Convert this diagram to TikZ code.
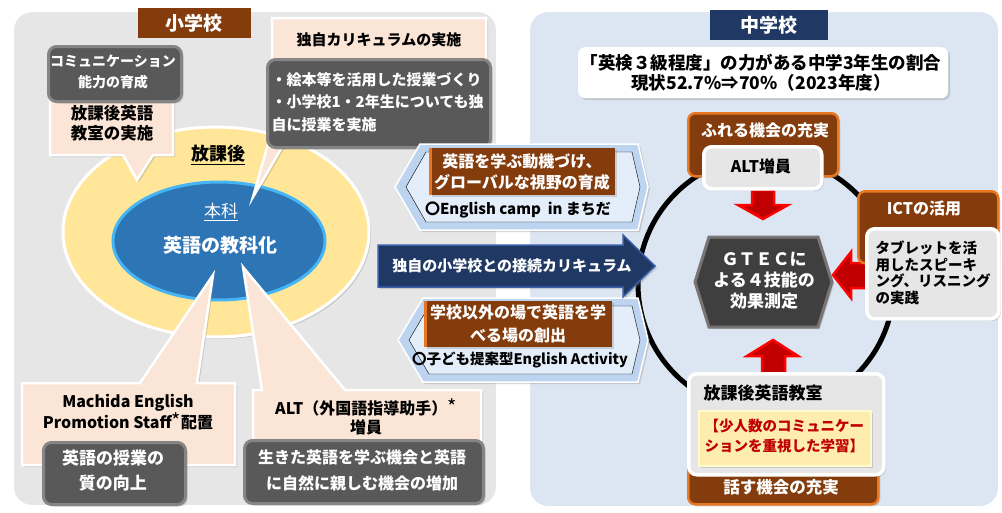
\documentclass[tikz,border=0pt]{standalone}
\usepackage{fontspec}
\setmainfont{Noto Sans CJK JP}
\usetikzlibrary{shadows,shapes.geometric}
\definecolor{panelL}{HTML}{E6E6E6}
\definecolor{panelR}{HTML}{DCE6F2}
\definecolor{brownB}{HTML}{843C0C}
\definecolor{orangeB}{HTML}{E87722}
\definecolor{navyB}{HTML}{1F3864}
\definecolor{darkbox}{HTML}{595959}
\definecolor{darkedge}{HTML}{858585}
\definecolor{pinkB}{HTML}{FBE5D6}
\definecolor{yellowE}{HTML}{FFE699}
\definecolor{blueE}{HTML}{2E75B6}
\definecolor{blueEdge}{HTML}{45B5F5}
\definecolor{chevB}{HTML}{BCD4F0}
\definecolor{chevL}{HTML}{E4EEFA}
\definecolor{arrowN}{HTML}{203864}
\definecolor{arrowNE}{HTML}{3A5FA8}
\definecolor{lightbox}{HTML}{E7E6E6}
\definecolor{redA}{HTML}{FF0000}
\definecolor{redD}{HTML}{C00000}
\definecolor{hexF}{HTML}{3F3F3F}
\definecolor{hexE}{HTML}{7A7575}
\definecolor{yelbox}{HTML}{FFEDB0}
\newcommand{\FS}[2]{\fontsize{#1}{#2}\selectfont\bfseries}
\newcommand{\astk}{{\mdseries\fontsize{20}{20}\selectfont *}}
\tikzset{
  shd/.style={drop shadow={opacity=0.3,shadow xshift=2pt,shadow yshift=-2pt}},
  panel/.style={draw=white,line width=4pt,rounded corners=20pt,anchor=north west,
    drop shadow={opacity=0.2,shadow xshift=1pt,shadow yshift=-1pt}},
  darkbx/.style={fill=darkbox,draw=darkedge,line width=3pt,rounded corners=8pt,anchor=north west,shd},
  pinkcall/.style={fill=pinkB,draw=white,line width=2.5pt,line join=miter,shd},
  brownbx/.style={fill=brownB,draw=orangeB,line width=2.5pt,rounded corners=7pt,anchor=north west,shd},
  lightbx/.style={fill=lightbox,draw=white,line width=3.5pt,rounded corners=8pt,anchor=north west,shd},
  titlebx/.style={anchor=north west,inner sep=0pt},
  redarrow/.style={fill=redD,draw=redA,line width=2.5pt,line join=miter},
  chevout/.style={fill=chevB,draw=white,line width=1.5pt,shd},
  chevin/.style={fill=chevL},
  midbrown/.style={fill=brownB,anchor=north west,inner sep=0pt,shd},
  wt/.style={text=white,align=center},
  bt/.style={text=black,align=center},
}
\begin{document}
\begin{tikzpicture}[x=1pt,y=-1pt]
\useasboundingbox (0,0) rectangle (1002,512);
% panels
\node[panel,fill=panelL,minimum width=486pt,minimum height=497pt] (lpanel) at (10,8) {};
\node[panel,fill=panelR,minimum width=472pt,minimum height=498pt] (rpanel) at (526,8) {};

% ellipses
\node[ellipse,fill=yellowE,draw=white,line width=3pt,minimum width=306pt,minimum height=210pt,shd] (yell) at (216,232) {};
\node[ellipse,fill=blueE,draw=blueEdge,line width=3pt,minimum width=212pt,minimum height=118pt] (bell) at (219,241) {};
\node[bt,font=\FS{18}{20}] (houka) at (218,155) {\underline{放課後}};
\node[wt,font=\fontsize{17}{20}\selectfont] (honka) at (221,212) {\underline{本科}};
\node[wt,font=\FS{19}{22}] (kyoka) at (220,245) {英語の教科化};

% pink callouts
\draw[pinkcall] (50,70) -- (173,70) -- (173,155) -- (153,155) -- (137,180) -- (123,155) -- (50,155) -- cycle;
\draw[pinkcall] (272,18) -- (486,18) -- (486,130) -- (292,130) -- (253,197) -- (272,130) -- cycle;
\draw[pinkcall] (22,383) -- (140,383) -- (213,275) -- (197,383) -- (235,383) -- (235,465) -- (22,465) -- cycle;
\draw[pinkcall] (253,390) -- (262,390) -- (243,267) -- (345,390) -- (481,390) -- (481,465) -- (253,465) -- cycle;

% title
\node[titlebx,fill=brownB,minimum width=113pt,minimum height=30pt] (ltitle) at (138,8) {};
\node[wt,font=\FS{19}{22}] (ltitlet) at (194,23) {小学校};

% dark boxes
\node[darkbx,minimum width=133pt,minimum height=55pt] (comm) at (47,45) {};
\node[darkbx,minimum width=223pt,minimum height=88pt] (dokuD) at (266,58) {};
\node[darkbx,minimum width=142pt,minimum height=62pt] (qual) at (42,441) {};
\node[darkbx,minimum width=239pt,minimum height=63pt] (altD) at (243,439) {};

% left texts
\node[wt,font=\FS{14}{21}] (commt) at (113,72) {コミュニケーション\\能力の育成};
\node[bt,font=\FS{16.5}{20}] (houkat) at (112,123) {放課後英語\\教室の実施};
\node[bt,font=\FS{15}{18}] (dokut) at (379,40) {独自カリキュラムの実施};
\node[text=white,align=left,anchor=west,font=\FS{15}{22.5}] (dokuDt) at (268,102) {・絵本等を活用した授業づくり\\・小学校1・2年生についても独\\自に授業を実施};
\node[bt,font=\FS{16}{21}] (mepst) at (128,412) {Machida English\\Promotion Staff\astk 配置};
\node[bt,font=\FS{16}{19}] (altt) at (366,417) {ALT（外国語指導助手）\astk\\増員};
\node[wt,font=\FS{17}{25}] (qualt) at (113,471) {英語の授業の\\質の向上};
\node[wt,font=\FS{16}{26}] (altDt) at (362,470) {生きた英語を学ぶ機会と英語\\に自然に親しむ機会の増加};

% right panel
\node[titlebx,fill=navyB,minimum width=118pt,minimum height=30pt] (rtitle) at (710,10) {};
\node[wt,font=\FS{19}{22}] (rtitlet) at (769,25) {中学校};
\node[anchor=north west,fill=white,rounded corners=7pt,minimum width=370pt,minimum height=51pt,shd] (goal) at (578,47) {};
\node[bt,font=\FS{17.5}{20}] (goalt) at (761,73) {「英検３級程度」の力がある中学3年生の割合\\現状52.7\%⇒70\%（2023年度）};

\node[circle,draw=black,line width=5pt,minimum size=256pt] (ring) at (766,284) {};

% red arrows
\draw[redarrow] (752,190) -- (774,190) -- (774,205) -- (788,205) -- (763,219) -- (738,205) -- (752,205) -- cycle;
\draw[redarrow] (868,263) -- (851,263) -- (851,252) -- (833,275) -- (851,298) -- (851,288) -- (868,288) -- cycle;
\draw[redarrow] (762,375) -- (762,356) -- (747,356) -- (773,340) -- (798,356) -- (785,356) -- (785,375) -- cycle;

% top
\node[brownbx,minimum width=150pt,minimum height=63pt] (fureru) at (687,112) {};
\node[wt,font=\FS{16}{18}] (furerut) at (765,130) {ふれる機会の充実};
\node[lightbx,minimum width=118pt,minimum height=42pt] (altz) at (702,145) {};
\node[bt,font=\FS{16}{18}] (altzt) at (761,166) {ALT増員};

% hexagon
\draw[fill=hexF,draw=hexE,line width=3pt,line join=miter,shd] (695,282) -- (709,237) -- (818,237) -- (832,282) -- (818,327) -- (709,327) -- cycle;
\node[wt,font=\FS{17}{21}] (gtec) at (764,281) {ＧＴＥＣに\\よる４技能の\\効果測定};

% ICT
\node[brownbx,minimum width=140pt,minimum height=72pt] (ict) at (857,190) {};
\node[wt,font=\FS{16}{18}] (ictt) at (924,208) {ICTの活用};
\node[lightbx,minimum width=132pt,minimum height=90pt] (tab) at (865,227) {};
\node[text=black,align=left,anchor=west,font=\FS{14.5}{16.5}] (tabt) at (872,273) {タブレットを活\\用したスピーキ\\ング、リスニング\\の実践};

% bottom
\node[brownbx,minimum width=190pt,minimum height=63pt] (hanasu) at (687,440) {};
\node[wt,font=\FS{16.5}{18}] (hanasut) at (781,487) {話す機会の充実};
\node[lightbx,minimum width=195pt,minimum height=101pt] (hkei) at (687,372) {};
\node[bt,font=\FS{17}{20}] (hkeit) at (763,393) {放課後英語教室};
\node[anchor=north west,fill=yelbox,draw=yellow!20,line width=2pt,minimum width=172pt,minimum height=55pt,shd] (yel) at (698,410) {};
\node[text=redD,align=left,anchor=west,font=\FS{14.5}{20}] (yelt) at (701,436) {【少人数のコミュニケー\\ションを重視した学習】};

% middle chevrons
\draw[chevout] (395,187) -- (420,144) -- (638,144) -- (648,187) -- (638,230) -- (420,230) -- cycle;
\draw[chevin] (406,187) -- (426,152) -- (632,152) -- (640,187) -- (632,222) -- (426,222) -- cycle;
\node[midbrown,minimum width=185pt,minimum height=47pt] (motiv) at (430,148) {};
\draw[orangeB,line width=3pt] (motiv.north west) -- (motiv.south west);
\node[wt,font=\FS{16}{21}] (motivt) at (522,172) {英語を学ぶ動機づけ、\\グローバルな視野の育成};
\node[bt,font=\FS{15}{18}] (campt) at (518,210) {〇English camp\ \ in まちだ};

\draw[chevout] (398,340) -- (423,298) -- (638,298) -- (648,340) -- (638,382) -- (423,382) -- cycle;
\draw[chevin] (409,340) -- (429,306) -- (632,306) -- (640,340) -- (632,374) -- (429,374) -- cycle;
\node[midbrown,minimum width=187pt,minimum height=46pt] (place) at (425,301) {};
\draw[orangeB,line width=3pt] (place.north west) -- (place.south west);
\node[wt,font=\FS{16}{23}] (placet) at (518,324) {学校以外の場で英語を学\\べる場の創出};
\node[bt,font=\FS{14.5}{18}] (actt) at (520,360) {〇子ども提案型English Activity};

% blue arrow
\draw[fill=arrowN,draw=arrowNE,line width=1.5pt,line join=miter,shd] (378,245) -- (623,245) -- (623,235) -- (655,266) -- (623,297) -- (623,287) -- (378,287) -- cycle;
\node[wt,font=\FS{15}{18}] (conn) at (512,266) {独自の小学校との接続カリキュラム};
\end{tikzpicture}
\end{document}
